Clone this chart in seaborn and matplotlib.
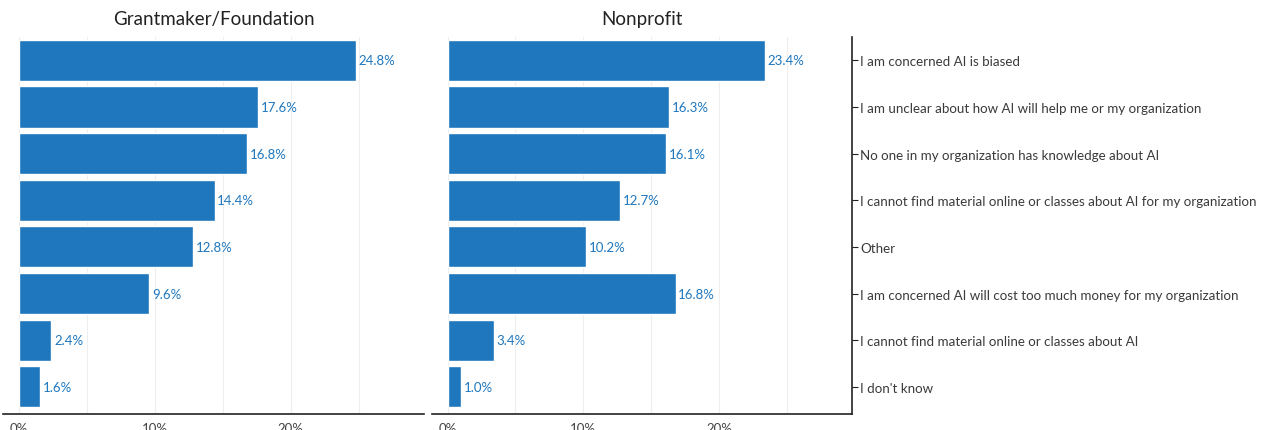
import numpy as np
import pandas as pd
import matplotlib
matplotlib.use("Agg")
import matplotlib.pyplot as plt
import seaborn as sns
from matplotlib.ticker import MultipleLocator, FuncFormatter

# categories in display order (top to bottom)
reasons = [
    "I am concerned AI is biased",
    "I am unclear about how AI will help me or my organization",
    "No one in my organization has knowledge about AI",
    "I cannot find material online or classes about AI for my organization",
    "Other",
    "I am concerned AI will cost too much money for my organization",
    "I cannot find material online or classes about AI",
    "I don't know",
]
grantmaker = [24.8, 17.6, 16.8, 14.4, 12.8, 9.6, 2.4, 1.6]
nonprofit = [23.4, 16.3, 16.1, 12.7, 10.2, 16.8, 3.4, 1.0]
panels = ["Grantmaker/Foundation", "Nonprofit"]

df = pd.DataFrame({
    "reason": reasons * 2,
    "pct": grantmaker + nonprofit,
    "group": [panels[0]] * len(reasons) + [panels[1]] * len(reasons),
})

sns.set_style("white")
plt.rcParams['font.family'] = ['Lato', 'DejaVu Sans']

bar_col = "#1f77bd"
fig = plt.figure(figsize=(12.64, 4.31), dpi=100)
ax1 = fig.add_axes([3/1264, 1-415/431, 421/1264, 377/431])
ax2 = fig.add_axes([432/1264, 1-415/431, 420/1264, 377/431])

for ax, name in zip([ax1, ax2], panels):
    sub = df[df.group == name]
    sns.barplot(data=sub, x="pct", y="reason", order=reasons, color=bar_col,
                width=0.88, saturation=1, ax=ax, zorder=3)
    for i, v in enumerate(sub.pct):
        ax.text(v + 0.2, i, f"{v:.1f}%", va="center", ha="left",
                fontsize=9.5, color=bar_col)
    ax.set_xlim(-1.15, 29.8)
    ax.set_ylim(7.58, -0.5)
    ax.xaxis.set_major_locator(MultipleLocator(10))
    ax.xaxis.set_minor_locator(MultipleLocator(5))
    ax.xaxis.set_major_formatter(FuncFormatter(lambda x, p: f"{x:.0f}%"))
    ax.grid(axis="x", which="both", color="#eeeeee", linewidth=0.8, zorder=0)
    ax.set_xlabel("")
    ax.set_ylabel("")
    ax.set_title(name, fontsize=13.5, color="#222222", pad=9)
    ax.tick_params(axis="x", which="major", length=4, color="#222222",
                   labelsize=9.5, labelcolor="#444444", pad=2)
    ax.tick_params(axis="x", which="minor", length=0)
    for s in ["top", "left", "right"]:
        ax.spines[s].set_visible(False)
    ax.spines["bottom"].set_color("#222222")
    ax.spines["bottom"].set_linewidth(1.2)

ax1.set_yticks([])
ax2.yaxis.tick_right()
ax2.spines["right"].set_visible(True)
ax2.spines["right"].set_color("#222222")
ax2.spines["right"].set_linewidth(1.2)
ax2.tick_params(axis="y", length=4, color="#222222", labelsize=9.6,
                labelcolor="#3a3a3a", pad=2)

fig.savefig("out.png", dpi=100)
